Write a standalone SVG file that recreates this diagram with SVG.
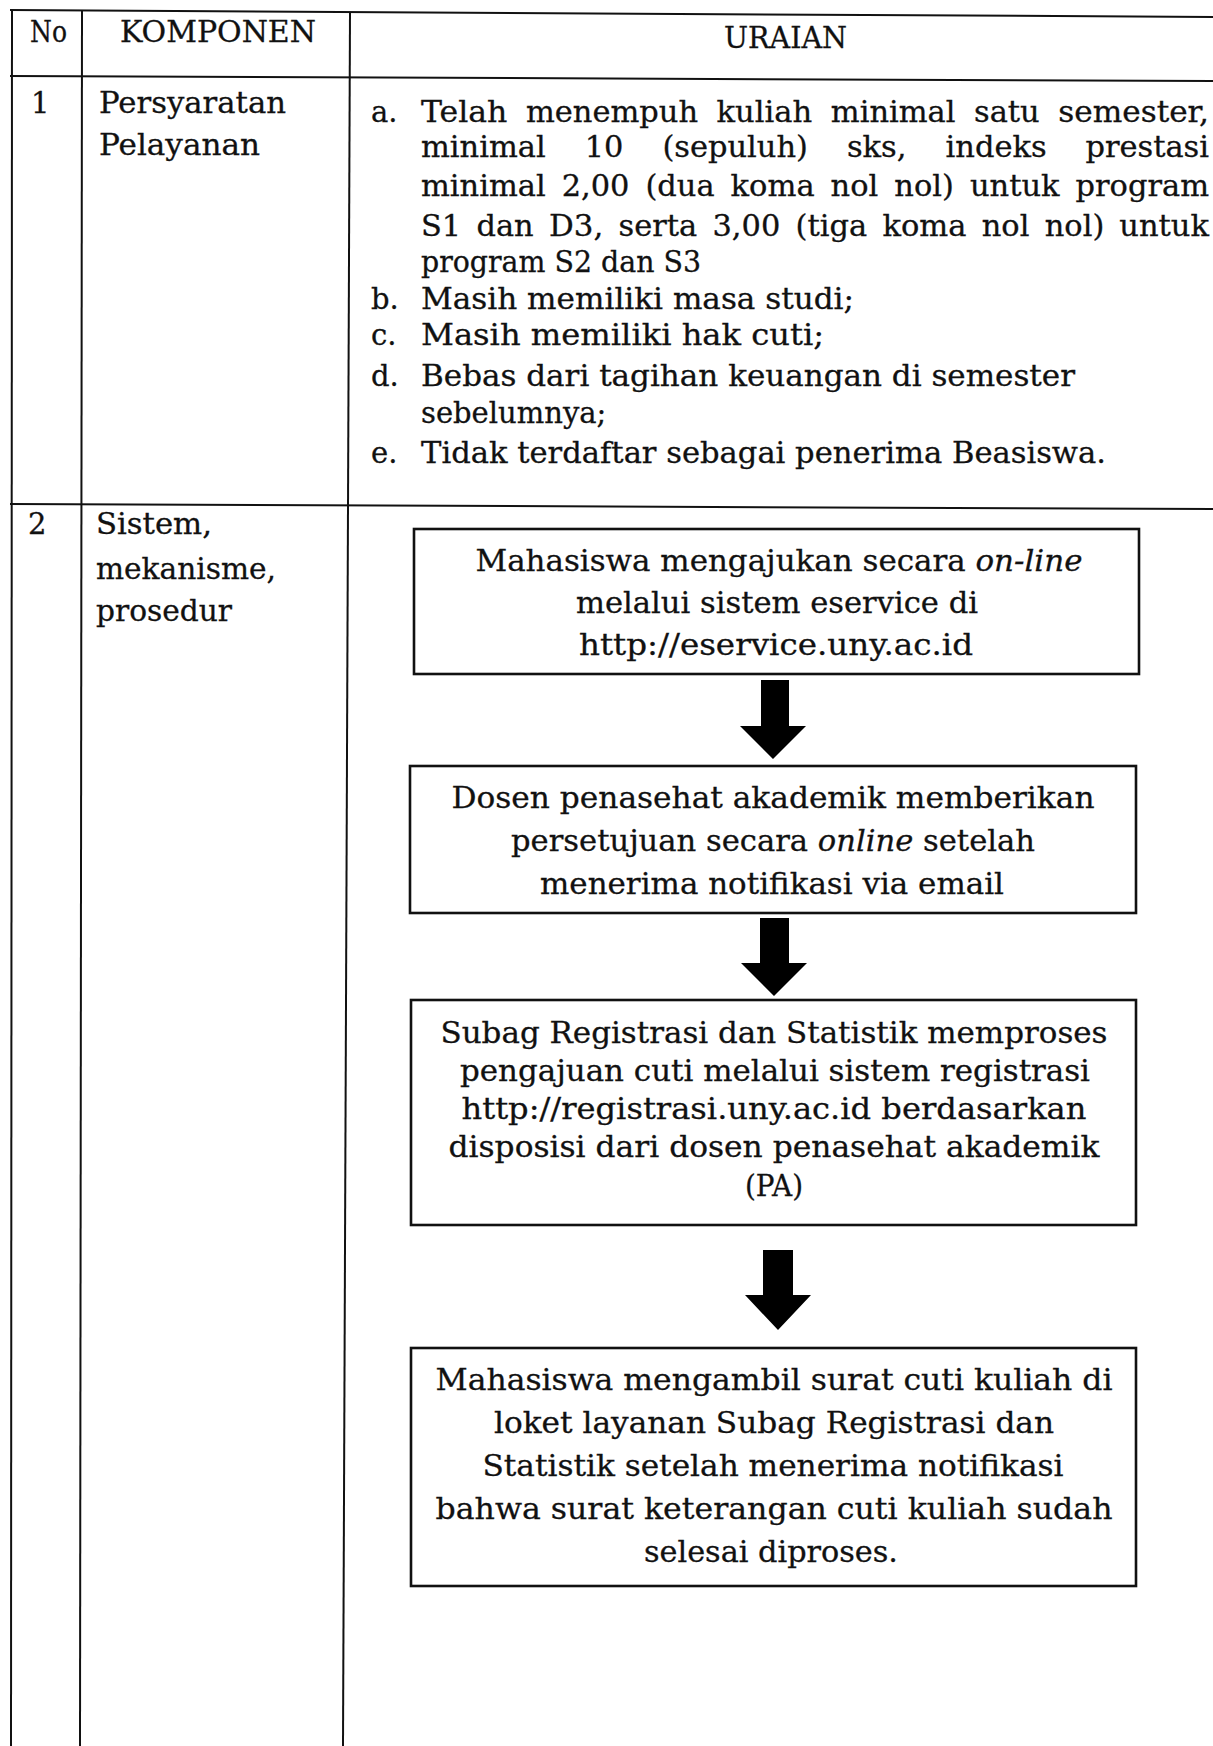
<svg xmlns="http://www.w3.org/2000/svg" width="1213" height="1746" viewBox="0 0 1213 1746">
<style>
.t{font-family:"DejaVu Serif","Liberation Serif",serif;font-size:29px;fill:#111;stroke:#111;stroke-width:0.3}
.b{font-family:"DejaVu Serif","Liberation Serif",serif;font-size:30px;fill:#111;stroke:#111;stroke-width:0.3;text-anchor:middle}
.grid{stroke:#111;stroke-width:2;fill:none}
.box{stroke:#111;stroke-width:2.6;fill:#fff}
.arr{fill:#000}
</style>
<g id="table">
<line class="grid" x1="10" y1="10" x2="1213" y2="17"/>
<line class="grid" x1="10" y1="76" x2="1213" y2="81"/>
<line class="grid" x1="10" y1="504" x2="1213" y2="509"/>
<line class="grid" x1="12" y1="10" x2="11" y2="1746"/>
<line class="grid" x1="82" y1="10" x2="80" y2="1746"/>
<line class="grid" x1="350" y1="12" x2="343" y2="1746"/>
</g>
<g id="header">
<text class="t" x="30" y="42" textLength="37" lengthAdjust="spacingAndGlyphs">No</text>
<text class="t" x="120" y="42" textLength="196" lengthAdjust="spacingAndGlyphs">KOMPONEN</text>
<text class="t" x="724" y="48" textLength="123" lengthAdjust="spacingAndGlyphs">URAIAN</text>
</g>
<g id="row1">
<text class="t" x="31" y="113">1</text>
<text class="t" x="99" y="113" textLength="187" lengthAdjust="spacingAndGlyphs">Persyaratan</text>
<text class="t" x="99" y="155" textLength="161" lengthAdjust="spacingAndGlyphs">Pelayanan</text>
<text class="t" x="371" y="122">a.</text>
<text class="t" x="421" y="122" textLength="86.3" lengthAdjust="spacingAndGlyphs">Telah</text>
<text class="t" x="525.9" y="122" textLength="172.1" lengthAdjust="spacingAndGlyphs">menempuh</text>
<text class="t" x="716.6" y="122" textLength="95.6" lengthAdjust="spacingAndGlyphs">kuliah</text>
<text class="t" x="830.8" y="122" textLength="124.7" lengthAdjust="spacingAndGlyphs">minimal</text>
<text class="t" x="974.1" y="122" textLength="65.6" lengthAdjust="spacingAndGlyphs">satu</text>
<text class="t" x="1058.3" y="122" textLength="150.7" lengthAdjust="spacingAndGlyphs">semester,</text>
<text class="t" x="421" y="157" textLength="124.7" lengthAdjust="spacingAndGlyphs">minimal</text>
<text class="t" x="584.7" y="157" textLength="38.7" lengthAdjust="spacingAndGlyphs">10</text>
<text class="t" x="662.4" y="157" textLength="145.5" lengthAdjust="spacingAndGlyphs">(sepuluh)</text>
<text class="t" x="846.9" y="157" textLength="59.6" lengthAdjust="spacingAndGlyphs">sks,</text>
<text class="t" x="945.5" y="157" textLength="101.2" lengthAdjust="spacingAndGlyphs">indeks</text>
<text class="t" x="1085.5" y="157" textLength="123.5" lengthAdjust="spacingAndGlyphs">prestasi</text>
<text class="t" x="421" y="196" textLength="124.7" lengthAdjust="spacingAndGlyphs">minimal</text>
<text class="t" x="561.7" y="196" textLength="67.8" lengthAdjust="spacingAndGlyphs">2,00</text>
<text class="t" x="645.5" y="196" textLength="69.1" lengthAdjust="spacingAndGlyphs">(dua</text>
<text class="t" x="730.6" y="196" textLength="84" lengthAdjust="spacingAndGlyphs">koma</text>
<text class="t" x="830.6" y="196" textLength="47.7" lengthAdjust="spacingAndGlyphs">nol</text>
<text class="t" x="894.3" y="196" textLength="59.6" lengthAdjust="spacingAndGlyphs">nol)</text>
<text class="t" x="969.9" y="196" textLength="89.7" lengthAdjust="spacingAndGlyphs">untuk</text>
<text class="t" x="1075.6" y="196" textLength="133.4" lengthAdjust="spacingAndGlyphs">program</text>
<text class="t" x="421" y="236" textLength="40.2" lengthAdjust="spacingAndGlyphs">S1</text>
<text class="t" x="476.5" y="236" textLength="57.2" lengthAdjust="spacingAndGlyphs">dan</text>
<text class="t" x="549" y="236" textLength="54.3" lengthAdjust="spacingAndGlyphs">D3,</text>
<text class="t" x="618.6" y="236" textLength="78.6" lengthAdjust="spacingAndGlyphs">serta</text>
<text class="t" x="712.5" y="236" textLength="67.8" lengthAdjust="spacingAndGlyphs">3,00</text>
<text class="t" x="795.6" y="236" textLength="71.5" lengthAdjust="spacingAndGlyphs">(tiga</text>
<text class="t" x="882.4" y="236" textLength="84" lengthAdjust="spacingAndGlyphs">koma</text>
<text class="t" x="981.7" y="236" textLength="47.7" lengthAdjust="spacingAndGlyphs">nol</text>
<text class="t" x="1044.7" y="236" textLength="59.6" lengthAdjust="spacingAndGlyphs">nol)</text>
<text class="t" x="1119.3" y="236" textLength="89.7" lengthAdjust="spacingAndGlyphs">untuk</text>
<text class="t" x="421" y="272" textLength="280" lengthAdjust="spacingAndGlyphs">program S2 dan S3</text>
<text class="t" x="371" y="309">b.</text>
<text class="t" x="421" y="309" textLength="433" lengthAdjust="spacingAndGlyphs">Masih memiliki masa studi;</text>
<text class="t" x="371" y="345">c.</text>
<text class="t" x="421" y="345" textLength="403" lengthAdjust="spacingAndGlyphs">Masih memiliki hak cuti;</text>
<text class="t" x="371" y="386">d.</text>
<text class="t" x="421" y="386" textLength="654" lengthAdjust="spacingAndGlyphs">Bebas dari tagihan keuangan di semester</text>
<text class="t" x="421" y="423">sebelumnya;</text>
<text class="t" x="371" y="463">e.</text>
<text class="t" x="421" y="463" textLength="685" lengthAdjust="spacingAndGlyphs">Tidak terdaftar sebagai penerima Beasiswa.</text>
</g>
<g id="row2">
<text class="t" x="28" y="534">2</text>
<text class="t" x="96" y="534" textLength="116" lengthAdjust="spacingAndGlyphs">Sistem,</text>
<text class="t" x="96" y="579" textLength="180" lengthAdjust="spacingAndGlyphs">mekanisme,</text>
<text class="t" x="96" y="621" textLength="136" lengthAdjust="spacingAndGlyphs">prosedur</text>
</g>
<g id="connectors">
<polygon class="arr" points="761,680 789,680 789,726 806,726 773,759 740,726 761,726"/>
<polygon class="arr" points="760,918 789,918 789,963 807,963 774,996 741,963 760,963"/>
<polygon class="arr" points="763,1250 793,1250 793,1295 811,1295 778,1330 745,1295 763,1295"/>
</g>
<g id="step1">
<rect class="box" x="414" y="529" width="725" height="145"/>
<text class="b" x="779" y="571" textLength="607" lengthAdjust="spacingAndGlyphs">Mahasiswa mengajukan secara <tspan font-style="italic">on-line</tspan></text>
<text class="b" x="777" y="613" textLength="402" lengthAdjust="spacingAndGlyphs">melalui sistem eservice di</text>
<text class="b" x="776" y="655" textLength="394" lengthAdjust="spacingAndGlyphs">http://eservice.uny.ac.id</text>
</g>
<g id="step2">
<rect class="box" x="410" y="766" width="726" height="147"/>
<text class="b" x="773" y="808" textLength="643" lengthAdjust="spacingAndGlyphs">Dosen penasehat akademik memberikan</text>
<text class="b" x="773" y="851" textLength="524" lengthAdjust="spacingAndGlyphs">persetujuan secara <tspan font-style="italic">online</tspan> setelah</text>
<text class="b" x="772" y="894" textLength="464" lengthAdjust="spacingAndGlyphs">menerima notifikasi via email</text>
</g>
<g id="step3">
<rect class="box" x="411" y="1000" width="725" height="225"/>
<text class="b" x="774" y="1043" textLength="667" lengthAdjust="spacingAndGlyphs">Subag Registrasi dan Statistik memproses</text>
<text class="b" x="775" y="1081" textLength="630" lengthAdjust="spacingAndGlyphs">pengajuan cuti melalui sistem registrasi</text>
<text class="b" x="774" y="1119" textLength="625" lengthAdjust="spacingAndGlyphs">http://registrasi.uny.ac.id berdasarkan</text>
<text class="b" x="774" y="1157" textLength="651" lengthAdjust="spacingAndGlyphs">disposisi dari dosen penasehat akademik</text>
<text class="b" x="774" y="1196" textLength="58" lengthAdjust="spacingAndGlyphs">(PA)</text>
</g>
<g id="step4">
<rect class="box" x="411" y="1348" width="725" height="238"/>
<text class="b" x="774" y="1390" textLength="677" lengthAdjust="spacingAndGlyphs">Mahasiswa mengambil surat cuti kuliah di</text>
<text class="b" x="774" y="1433" textLength="560" lengthAdjust="spacingAndGlyphs">loket layanan Subag Registrasi dan</text>
<text class="b" x="773" y="1476" textLength="581" lengthAdjust="spacingAndGlyphs">Statistik setelah menerima notifikasi</text>
<text class="b" x="774" y="1519" textLength="677" lengthAdjust="spacingAndGlyphs">bahwa surat keterangan cuti kuliah sudah</text>
<text class="b" x="771" y="1562" textLength="254" lengthAdjust="spacingAndGlyphs">selesai diproses.</text>
</g>
</svg>
